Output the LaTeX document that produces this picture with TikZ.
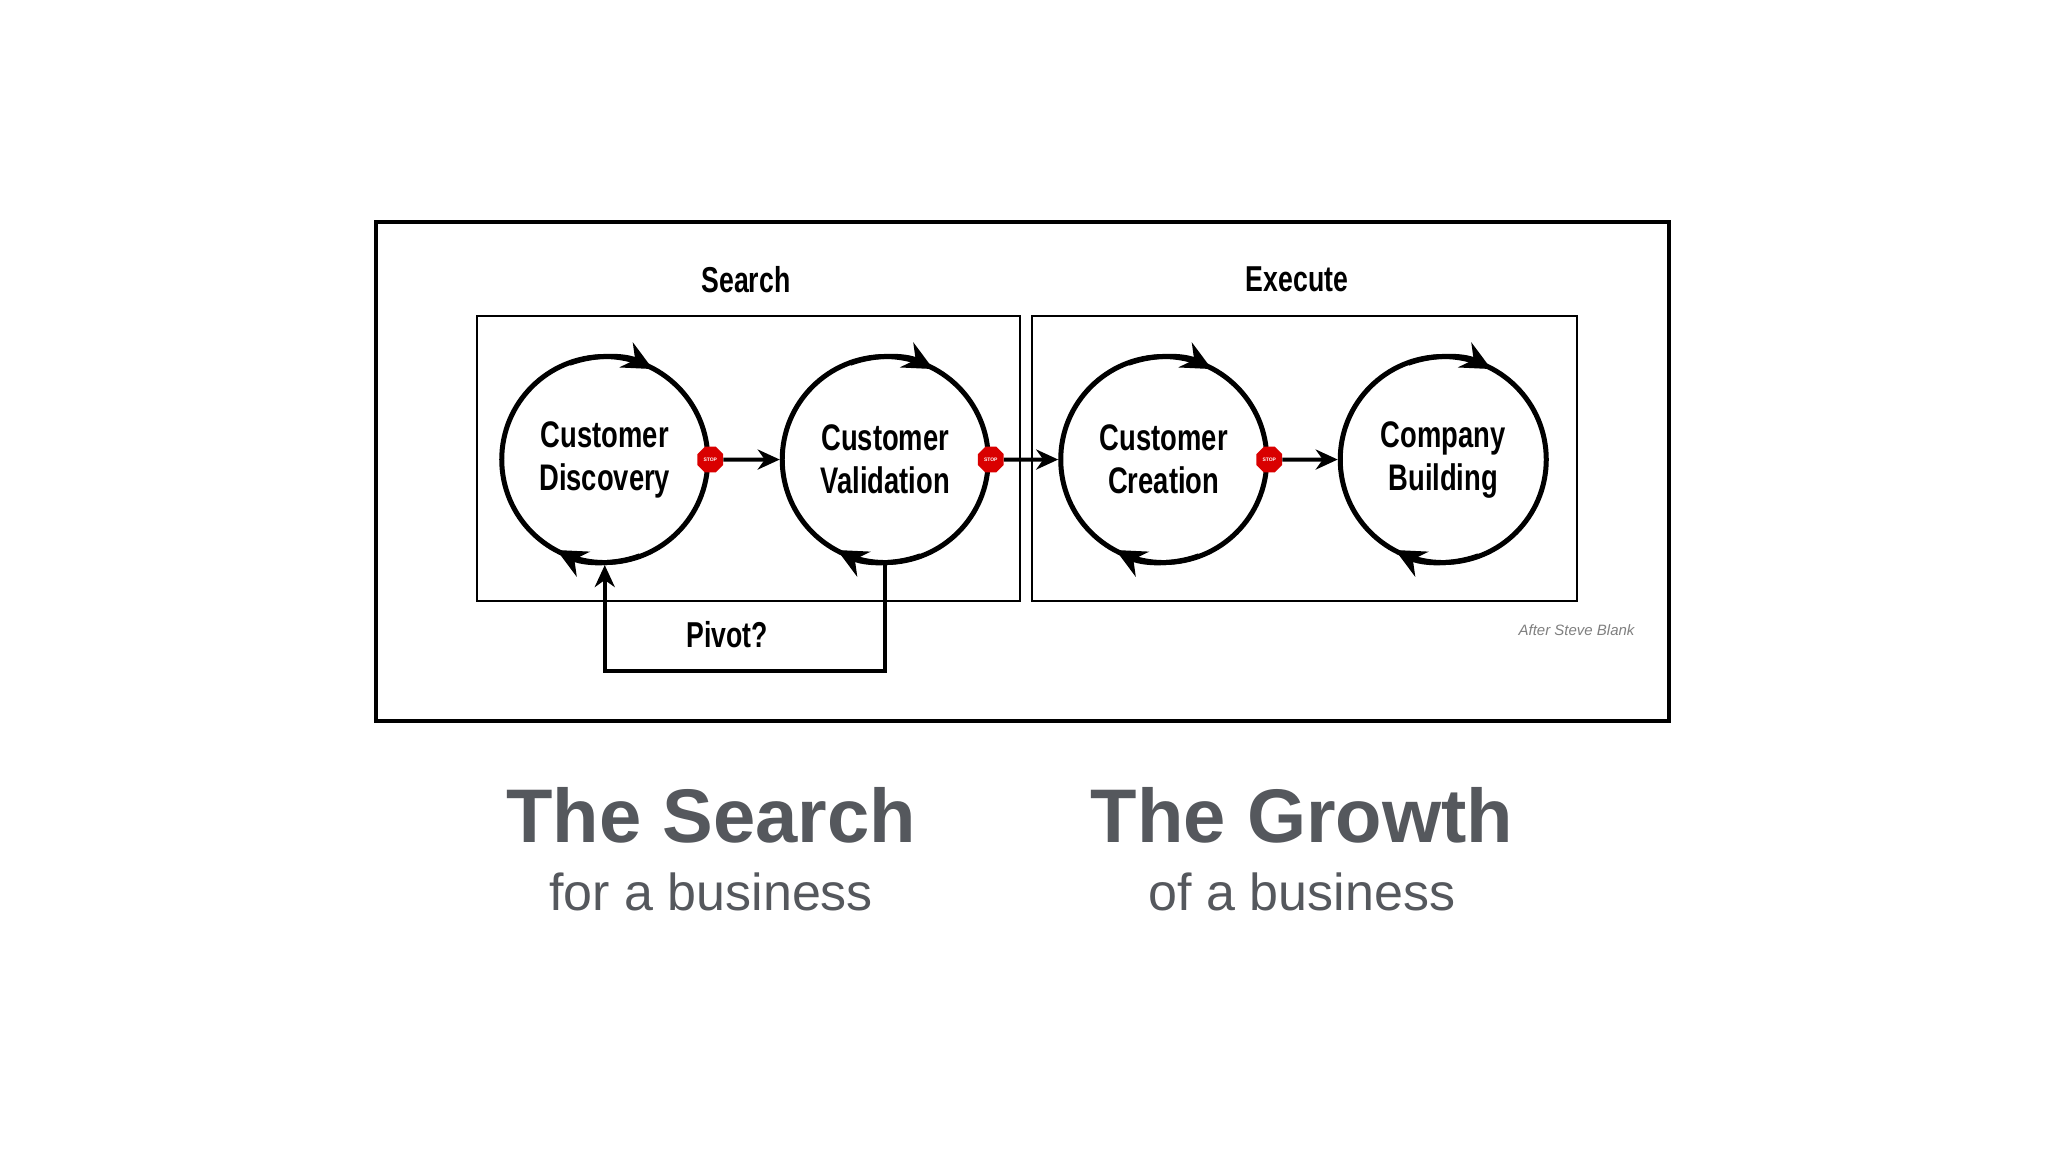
\documentclass[tikz,border=0pt]{standalone}
\usepackage{fontspec}
\setmainfont{Liberation Sans}
\newfontfamily\cond[FakeStretch=0.74]{Liberation Sans}
\usetikzlibrary{shapes.geometric,arrows.meta}
\definecolor{greytxt}{HTML}{55585D}
\begin{document}
\begin{tikzpicture}[x=0.9945pt,y=0.9945pt,
  loopc/.style={circle,draw,line width=5pt,minimum size=206pt,inner sep=0pt,align=center,font=\cond\bfseries\fontsize{37}{43}\selectfont},
  stopsign/.style={regular polygon,regular polygon sides=8,fill=red!85!black,minimum size=28pt,inner sep=0pt,text=white,font=\bfseries\fontsize{5}{5}\selectfont},
  arr/.style={line width=4pt,-{Stealth[length=22pt,width=20pt,inset=7pt]}},
  tip/.style={line width=5pt,-{Stealth[length=30pt,width=28pt,inset=10pt]}},
  lbl/.style={font=\cond\bfseries\fontsize{36}{42}\selectfont},
  big/.style={font=\bfseries\fontsize{76}{90}\selectfont,text=greytxt},
  small/.style={font=\fontsize{52}{60}\selectfont,text=greytxt}]
\useasboundingbox (0,0) rectangle (2059,-1158);
\fill[white] (0,0) rectangle (2059,-1158);
\draw[line width=4pt] (378,-223) rectangle (1678,-725);
\draw[line width=2pt] (480,-318) rectangle (1025,-604);
\draw[line width=2pt] (1038,-318) rectangle (1585,-604);
\node[lbl] (search) at (750,-281) {Search};
\node[lbl] (execute) at (1304,-281) {Execute};
\node[loopc] (c1) at (608,-462) {Customer\\Discovery};
\node[loopc] (c2) at (890,-462) {Customer\\Validation};
\node[loopc] (c3) at (1170,-462) {Customer\\Creation};
\node[loopc] (c4) at (1451,-462) {Company\\Building};
\foreach \c in {c1,c2,c3,c4}{
  \draw[tip] (\c) ++(110:103) arc[start angle=110,end angle=62,radius=103];
  \draw[tip] (\c) ++(290:103) arc[start angle=290,end angle=242,radius=103];
}
\node[stopsign] (s1) at (c1.east) {STOP};
\node[stopsign] (s2) at (c2.east) {STOP};
\node[stopsign] (s3) at (c3.east) {STOP};
\draw[arr] (s1.east) -- (c2.west);
\draw[arr] (s2.east) -- (c3.west);
\draw[arr] (s3.east) -- (c4.west);
\coordinate (pv) at (890,-675);
\draw[arr,line join=miter] (c2.south) -- (pv) -| (c1.south);
\node[lbl] (pivot) at (731,-638) {Pivot?};
\node[font=\itshape\fontsize{15}{18}\selectfont,text=gray] (after) at (1585,-634) {After Steve Blank};
\node[big] (t1) at (715,-820) {The Search};
\node[small] (s1t) at (715,-897) {for a business};
\node[big] (t2) at (1309,-820) {The Growth};
\node[small] (s2t) at (1309,-897) {of a business};
\end{tikzpicture}
\end{document}
